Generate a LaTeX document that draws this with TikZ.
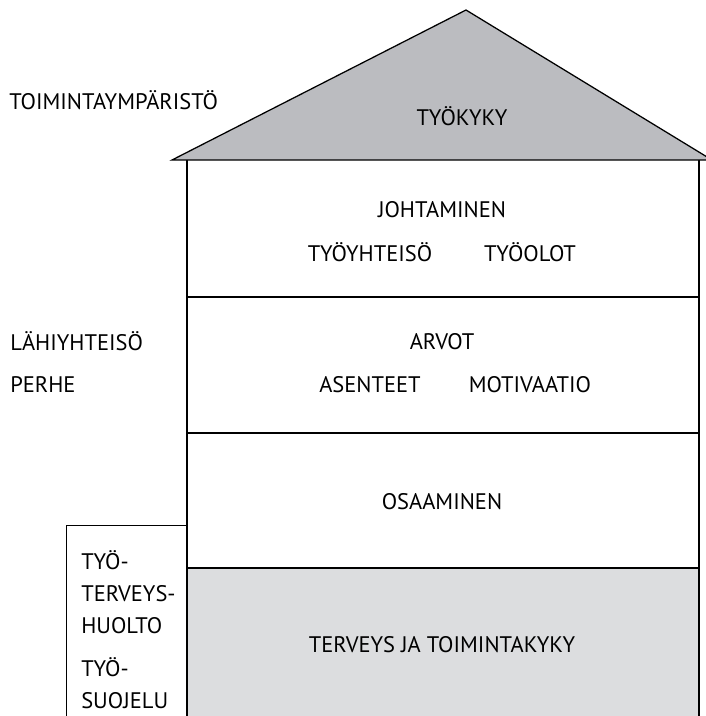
\documentclass[tikz,border=0pt]{standalone}
\usepackage{fontspec}
\setmainfont{PT Sans}
\usetikzlibrary{positioning}
\definecolor{roofgray}{HTML}{BBBCC0}
\definecolor{floorgray}{HTML}{DCDDDF}

\begin{document}
\begin{tikzpicture}[x=0.025cm, y=-0.025cm, every node/.style={font=\fontsize{16}{18}\selectfont}]
    \useasboundingbox (0,0) rectangle (705,716);
    % Roof and floors
    \fill[floorgray] (187,568) rectangle (699,716);
    \draw[line width=0.9pt] (187,160) -- (187,716);
    \draw[line width=0.9pt] (699,160) -- (699,716);
    \draw[line width=0.9pt] (187,297) -- (699,297);
    \draw[line width=0.9pt] (187,433) -- (699,433);
    \draw[line width=0.9pt] (187,568) -- (699,568);
    \draw[line width=0.9pt, fill=roofgray, line join=miter] (172,160) -- (466,10) -- (712,160) -- cycle;
    % Side box
    \draw[line width=0.6pt] (66,716) -- (66,525) -- (187,525);

    % Texts in the house
    \node (kyky) at (462,116) {TYÖKYKY};
    \node (johto) at (442,210) {JOHTAMINEN};
    \node (yhteiso) at (370,252) {TYÖYHTEISÖ};
    \node (olot) at (530,252) {TYÖOLOT};
    \node (arvot) at (442,342) {ARVOT};
    \node (asenteet) at (370,385) {ASENTEET};
    \node (motiv) at (530,385) {MOTIVAATIO};
    \node (osaam) at (442,502) {OSAAMINEN};
    \node (terveys) at (442,645) {TERVEYS JA TOIMINTAKYKY};

    % Texts outside
    \node[anchor=west, inner sep=0pt] (ymparisto) at (9,100) {TOIMINTAYMPÄRISTÖ};
    \node[anchor=west, inner sep=0pt] (lahi) at (10,341) {LÄHIYHTEISÖ};
    \node[anchor=west, inner sep=0pt] (perhe) at (10,385) {PERHE};
    \node[anchor=north west, inner sep=0pt, align=left, font=\fontsize{16}{22.7}\selectfont] (huolto) at (81,550) {TYÖ-\\TERVEYS-\\HUOLTO\\[8.5pt]TYÖ-\\SUOJELU};
\end{tikzpicture}
\end{document}
